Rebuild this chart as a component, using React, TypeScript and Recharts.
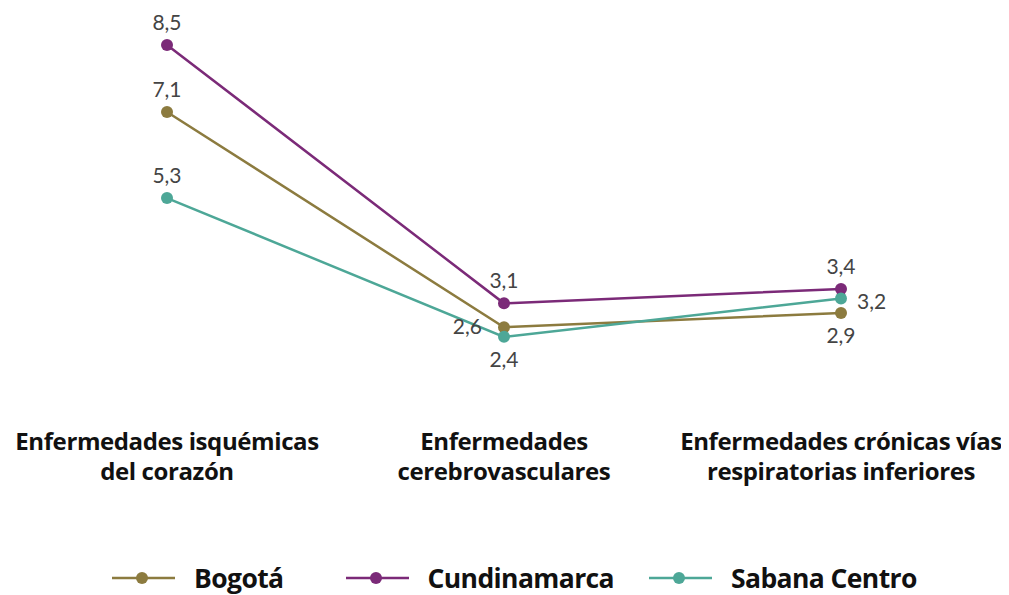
import React from 'react';
import { LineChart, Line, XAxis, YAxis, Legend, LabelList } from 'recharts';

const categories = [
  'Enfermedades isquémicas|del corazón',
  'Enfermedades|cerebrovasculares',
  'Enfermedades crónicas vías|respiratorias inferiores',
];
const bogota = [7.1, 2.6, 2.9];
const cundinamarca = [8.5, 3.1, 3.4];
const sabanaCentro = [5.3, 2.4, 3.2];

const series = [
  { key: 'bogota', name: 'Bogotá', color: '#8C7B3F', pos: ['top', 'left', 'bottom'] },
  { key: 'cundinamarca', name: 'Cundinamarca', color: '#7B2A78', pos: ['top', 'top', 'top'] },
  { key: 'sabana', name: 'Sabana Centro', color: '#4DA797', pos: ['top', 'bottom', 'right'] },
];

const data = categories.map((c, i) => ({
  name: c,
  bogota: bogota[i],
  cundinamarca: cundinamarca[i],
  sabana: sabanaCentro[i],
}));

const FONT = 'Lato, "Noto Sans", sans-serif';
const BOLD_FONT = '"Open Sans", "Noto Sans", sans-serif';

// left spacing of each legend item (first one from the left edge)
const legendGaps = [104, 62, 35];

const fmt = (v: number) => v.toFixed(1).replace('.', ',');

const makeLabel = (pos: string[]) => (props: any) => {
  const { x, y, value, index } = props;
  const p = pos[index];
  let tx = x, ty = y - 15, anchor: 'middle' | 'end' | 'start' = 'middle';
  if (p === 'bottom') ty = y + 30;
  if (p === 'left') { tx = x - 22; ty = y + 7; anchor = 'end'; }
  if (p === 'right') { tx = x + 16; ty = y + 10; anchor = 'start'; }
  return (
    <text x={tx} y={ty} textAnchor={anchor} fill="#444" fontSize={21} fontFamily={FONT}>
      {fmt(value)}
    </text>
  );
};

const CategoryTick = (props: any) => {
  const { x, y, payload } = props;
  const lines = String(payload.value).split('|');
  return (
    <text x={x} y={y} textAnchor="middle" fill="#111" fontSize={24} fontWeight="bold" fontFamily={BOLD_FONT} letterSpacing={-0.4}>
      {lines.map((l, i) => (
        <tspan key={i} x={x} dy={i === 0 ? 86 : 30}>{l}</tspan>
      ))}
    </text>
  );
};

const LegendContent = () => (
  <div style={{ display: 'flex', alignItems: 'center', height: 30, fontFamily: BOLD_FONT }}>
    {series.map((s, i) => (
      <div key={s.key} style={{ display: 'flex', alignItems: 'center', marginLeft: legendGaps[i] }}>
        <svg width={63} height={14}>
          <line x1={0} y1={7} x2={63} y2={7} stroke={s.color} strokeWidth={2.5} />
          <circle cx={30} cy={7} r={6} fill={s.color} />
        </svg>
        <span style={{ marginLeft: 19, fontSize: 26.5, fontWeight: 'bold', color: '#111', letterSpacing: -0.6 }}>{s.name}</span>
      </div>
    ))}
  </div>
);

export default function App() {
  return (
    <LineChart width={1000} height={587} data={data} margin={{ top: 13, right: 0, left: 0, bottom: 59 }}>
      <XAxis
        dataKey="name"
        axisLine={false}
        tickLine={false}
        interval={0}
        height={150}
        padding={{ left: 159, right: 167 }}
        tick={<CategoryTick />}
      />
      <YAxis hide domain={[2, 9]} />
      <Legend
        content={<LegendContent />}
        wrapperStyle={{ position: 'absolute', top: 555, left: 0, width: 1000, height: 30 }}
      />
      {series.map((s) => (
        <Line
          key={s.key}
          dataKey={s.key}
          name={s.name}
          stroke={s.color}
          strokeWidth={2.5}
          dot={{ r: 6, fill: s.color, stroke: 'none' }}
          activeDot={false}
          isAnimationActive={false}
        >
          <LabelList dataKey={s.key} content={makeLabel(s.pos)} />
        </Line>
      ))}
    </LineChart>
  );
}
